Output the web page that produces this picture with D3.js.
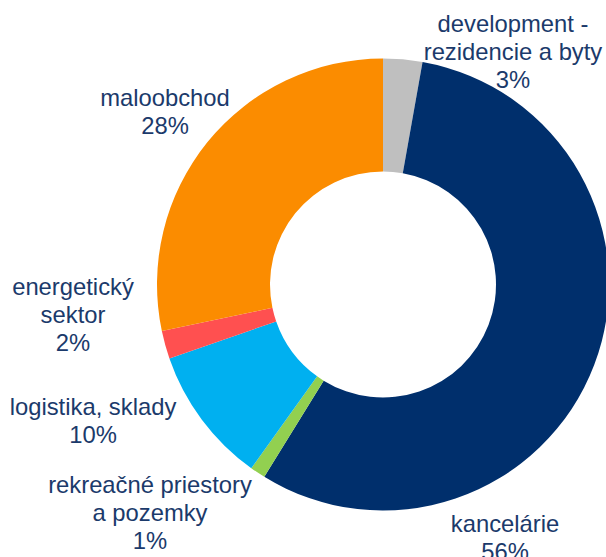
<!DOCTYPE html>
<html>
<head>
<meta charset="utf-8">
<script src="https://cdn.jsdelivr.net/npm/d3@7"></script>
<style>
    html, body { margin: 0; padding: 0; background: #fff; }
    svg { display: block; }
    .lbl { font-family: "Liberation Sans", Arial, sans-serif; font-size: 23.8px; fill: #1b3a6b; }
</style>
</head>
<body>
<div id="chart"></div>
<script>
// segment data (clockwise from 12 o'clock)
const categories = ['development - rezidencie a byty', 'kancelárie', 'rekreačné priestory a pozemky',
    'logistika, sklady', 'energetický sektor', 'maloobchod'];
const shares = [2.8, 56.0, 1.1, 9.8, 2.0, 28.3];
const shareLabels = ['3%', '56%', '1%', '10%', '2%', '28%'];
const labelLines = [
    ['development -', 'rezidencie a byty'],
    ['kancelárie'],
    ['rekreačné priestory', 'a pozemky'],
    ['logistika, sklady'],
    ['energetický', 'sektor'],
    ['maloobchod']
];
const colors = ['#bfbfbf', '#002f6c', '#92d050', '#00b0f0', '#ff5050', '#fb8c00'];

// label anchor (first baseline) per segment
const labelPos = [[513, 32], [505, 532], [150, 493], [93, 415], [73, 295], [165, 106]];

const width = 606, height = 557;
const cx = 383, cy = 284.5;
const outerR = 226, innerR = 113;
const lineH = 28;

const svg = d3.select('#chart').append('svg')
    .attr('width', width)
    .attr('height', height);

const pie = d3.pie().sort(null).value(d => d);
const arc = d3.arc().innerRadius(innerR).outerRadius(outerR);

const g = svg.append('g').attr('transform', `translate(${cx},${cy})`);

g.selectAll('path')
    .data(pie(shares))
    .join('path')
    .attr('d', arc)
    .attr('fill', (d, i) => colors[i]);

// labels
const labels = svg.append('g');
categories.forEach((c, i) => {
    const lines = labelLines[i].concat([shareLabels[i]]);
    const t = labels.append('text')
        .attr('class', 'lbl')
        .attr('text-anchor', 'middle')
        .attr('x', labelPos[i][0])
        .attr('y', labelPos[i][1]);
    lines.forEach((ln, k) => {
        t.append('tspan')
            .attr('x', labelPos[i][0])
            .attr('dy', k === 0 ? 0 : lineH)
            .text(ln);
    });
});
</script>
</body>
</html>
